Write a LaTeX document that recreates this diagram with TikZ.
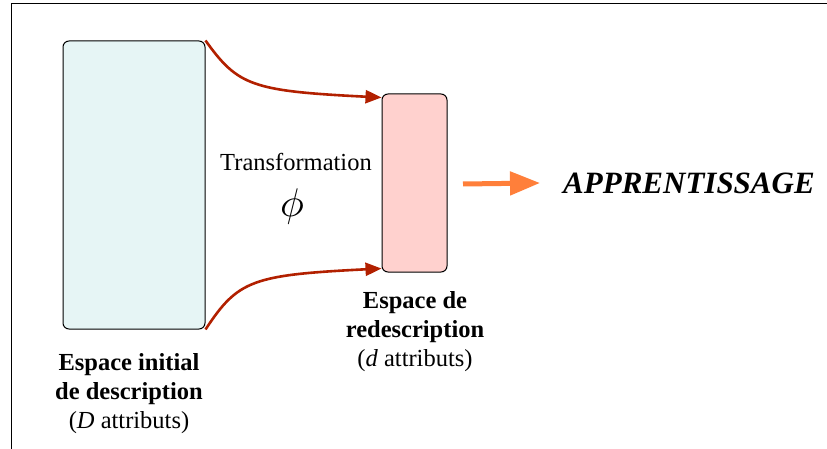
\documentclass[tikz,border=0pt]{standalone}
\usepackage{fontspec}
\setmainfont{Liberation Serif}
\usetikzlibrary{arrows.meta}
\definecolor{boxcyan}{HTML}{E6F5F5}
\definecolor{boxpink}{HTML}{FFD1CE}
\definecolor{darkred}{HTML}{B22000}
\definecolor{orng}{HTML}{FF7F3A}
\tikzset{
  space/.style={draw=black, line width=1pt, rounded corners=6pt, inner sep=0pt},
  trans/.style={draw=darkred, line width=2.6pt, -{Triangle[length=16pt,width=13pt]}},
  lbl/.style={align=center, font=\fontsize{24}{29}\selectfont, inner sep=0pt},
}
\begin{document}
\begin{tikzpicture}[x=1pt,y=-1pt]
\useasboundingbox (0,0) rectangle (827,449);
\draw[line width=1.6pt, black] (11.5,449) -- (11.5,3.5) -- (827,3.5);
\node[space, fill=boxcyan, minimum width=142pt, minimum height=288pt] (L) at (134,185) {};
\node[space, fill=boxpink, minimum width=65pt, minimum height=178pt] (R) at (414.5,183) {};
\draw[trans] (L.north east) .. controls (238,86) and (252,91) .. ([yshift=-4pt]R.north west);
\draw[trans] (L.south east) .. controls (238,280) and (252,275) .. ([yshift=4pt]R.south west);
\node[lbl, font=\fontsize{24.5}{29}\selectfont] (T) at (296,162) {Transformation};
\node[inner sep=0pt] (phi) at (292,206) {\scalebox{4}{$\phi$}};
\node[lbl, anchor=west, font=\fontsize{31}{34}\selectfont\bfseries\itshape] (A) at (563,183) {APPRENTISSAGE};
\coordinate (os) at (463,184);
\draw[orng, line width=5pt, -{Triangle[length=30pt,width=23pt]}] (os) -- ([xshift=-23pt]A.west);
\node[lbl, font=\fontsize{24.5}{29}\selectfont] (lab1) at (129,394) {\textbf{Espace initial}\\\textbf{de description}\\(\textit{D} attributs)};
\node[lbl, font=\fontsize{24.5}{29}\selectfont] (lab2) at (415,332) {\textbf{Espace de}\\\textbf{redescription}\\(\textit{d} attributs)};
\end{tikzpicture}
\end{document}
